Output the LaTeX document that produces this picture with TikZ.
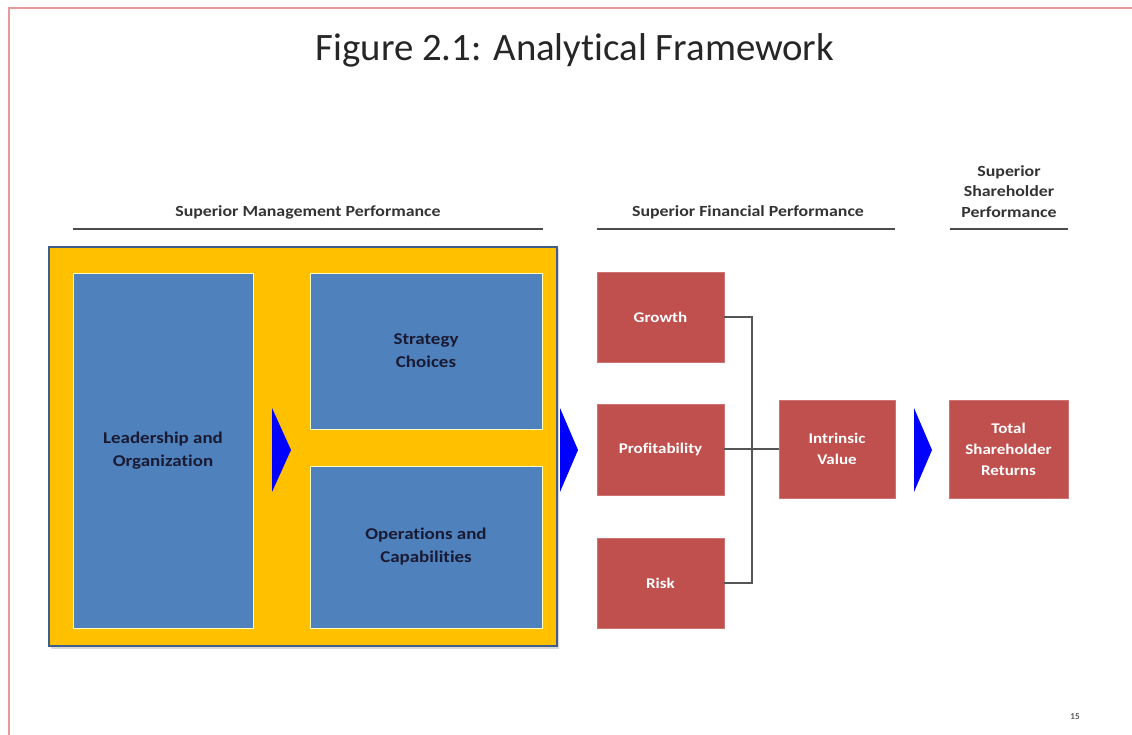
\documentclass[tikz,border=0pt]{standalone}
\usepackage{fontspec}
\setmainfont{Carlito}[Ligatures=CommonOff]
\newfontfamily\widebold[FakeStretch=1.15, Ligatures=CommonOff]{Carlito}
\definecolor{frameRed}{HTML}{E8999B}
\definecolor{panelOrange}{HTML}{FFC000}
\definecolor{panelEdge}{HTML}{3F5F8A}
\definecolor{stepBlue}{HTML}{4F81BD}
\definecolor{stepRed}{HTML}{C0504D}
\definecolor{darkText}{HTML}{1A1A33}
\definecolor{linkGray}{HTML}{555555}
\definecolor{chevron}{HTML}{0000FF}
\tikzset{
  headtext/.style={font=\widebold\bfseries\fontsize{15.5}{20.5}\selectfont, text=black!80, align=center},
  headrule/.style={draw=black!70, line width=1.2pt},
  bluebox/.style={draw=white!75!yellow, line width=0.8pt, fill=stepBlue, inner sep=0pt,
    font=\widebold\bfseries\fontsize{16.5}{23}\selectfont, text=darkText, align=center},
  redbox/.style={fill=stepRed, draw=stepRed!80!white, line width=0.5pt, inner sep=0pt,
    font=\widebold\bfseries\fontsize{14.8}{21}\selectfont, text=white, align=center},
  link/.style={draw=linkGray, line width=1.3pt},
  pointer/.style={fill=chevron, draw=none},
}
\begin{document}
\begin{tikzpicture}[x=1pt, y=-1pt]
\useasboundingbox (0,0) rectangle (1132,735);
\fill[white] (0,0) rectangle (1132,735);

% slide frame (top and left edges)
\draw[frameRed, line width=2.5pt] (9,735) -- (9,8) -- (1132,8);

% title
\node[font=\fontsize{38.8}{44}\selectfont, text=black!85] (title) at (575,50) {Figure 2.1: Analytical Framework};

% column headings
\node[headtext] (hMgmt) at (308,212) {Superior Management Performance};
\draw[headrule] (73,229) -- (543,229);
\node[headtext] (hFin) at (748,212) {Superior Financial Performance};
\draw[headrule] (597,229) -- (895,229);
\node[headtext, anchor=south] (hShare) at (1009,221) {Superior\\Shareholder\\Performance};
\draw[headrule] (950,229) -- (1068,229);

% management panel
\draw[fill=black!15, draw=none] (51,249) rectangle (559,649);
\draw[fill=panelOrange, draw=panelEdge, line width=2.5pt] (49,247) rectangle (557,646);

\node[bluebox, minimum width=180pt, minimum height=355pt] (lead) at (163,450.5) {Leadership and\\Organization};
\node[bluebox, minimum width=232pt, minimum height=156pt] (strat) at (426,351) {Strategy\\Choices};
\node[bluebox, minimum width=232pt, minimum height=162pt] (ops) at (426,547) {Operations and\\Capabilities};

% chevrons
\fill[pointer] (272,408) -- (291,450) -- (272,492) -- cycle;
\fill[pointer] (560,408) -- (578,450) -- (560,492) -- cycle;
\fill[pointer] (914,408) -- (932,450) -- (914,492) -- cycle;

% financial drivers
\node[redbox, minimum width=127pt, minimum height=90pt] (growth) at (660.5,317) {Growth};
\node[redbox, minimum width=127pt, minimum height=91pt] (profit) at (660.5,449.5) {Profitability};
\node[redbox, minimum width=127pt, minimum height=90pt] (risk) at (660.5,583) {Risk};
\node[redbox, minimum width=116pt, minimum height=98pt] (value) at (837,449) {Intrinsic\\Value};
\node[redbox, minimum width=119pt, minimum height=98pt] (tsr) at (1008.5,449) {Total\\Shareholder\\Returns};

% connectors
\coordinate (bus) at (752,449);
\draw[link] (growth.east) -- (bus |- growth.east) -- (bus |- risk.east) -- (risk.east);
\draw[link] (profit.east |- value.west) -- (value.west);

% page number
\node[font=\bfseries\fontsize{9}{10}\selectfont, text=black!65] (pageno) at (1075,717) {15};
\end{tikzpicture}
\end{document}
